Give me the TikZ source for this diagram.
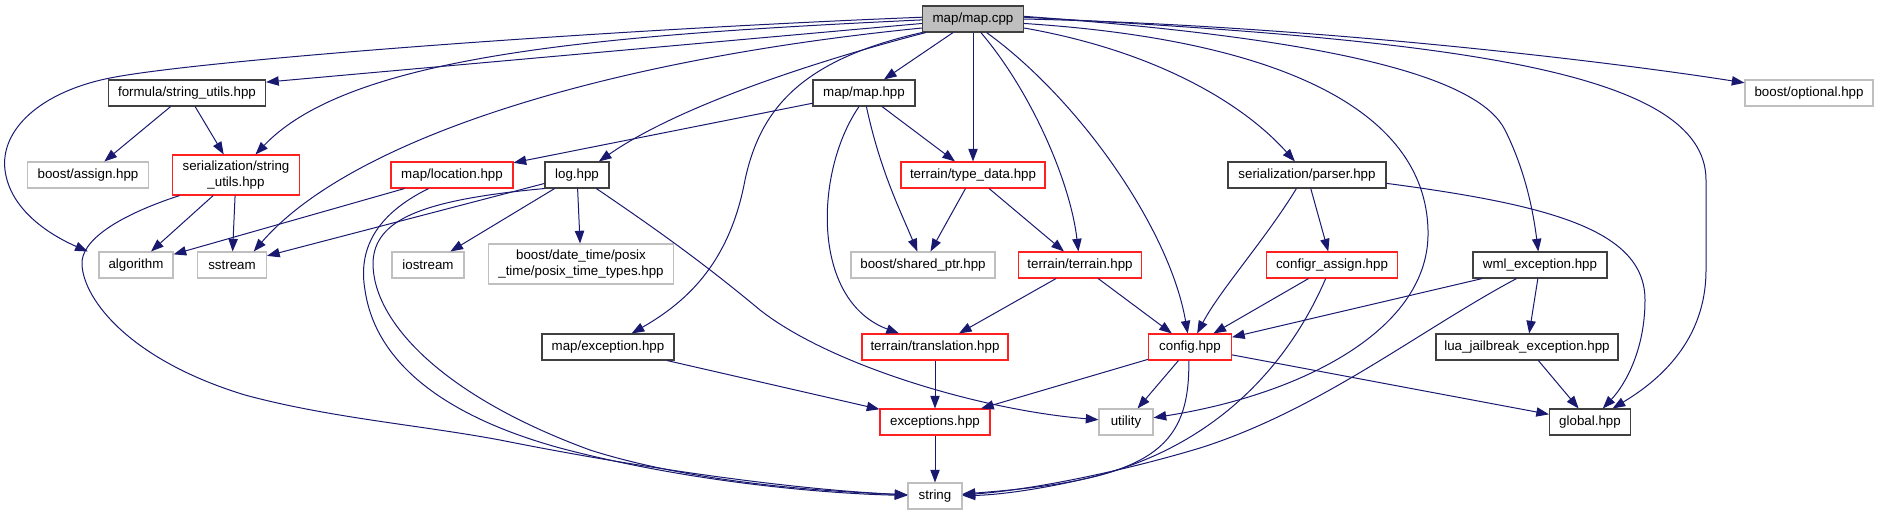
\documentclass[tikz,border=0pt]{standalone}
\usepackage{fontspec}
\setmainfont{Liberation Sans}
\usetikzlibrary{arrows.meta}
\definecolor{edgec}{HTML}{191970}
\definecolor{gbord}{HTML}{BFBFBF}
\definecolor{bbord}{HTML}{404040}
\definecolor{rbord}{HTML}{FF2020}
\definecolor{cppfill}{HTML}{BFBFBF}
\begin{document}
\begin{tikzpicture}[x=0.75pt,y=-0.75pt,
  box/.style={draw, line width=0.8pt, fill=white, minimum height=19.5pt, inner sep=0pt,
              font=\fontsize{10}{12}\selectfont, align=center},
  wd/.style={minimum width=#1*0.75pt},
  bbox/.style={box, draw=bbord},
  rbox/.style={box, draw=rbord},
  gbox/.style={box, draw=gbord},
  edge/.style={draw=edgec, line width=0.75pt, -{Triangle[length=9.5pt,width=7pt]}}
]
\useasboundingbox (0,0) rectangle (1878,515);

% nodes
\node[bbox, fill=cppfill, wd=101] (cpp) at (973,19) {map/map.cpp};
\node[bbox, wd=157] (formula) at (187,93) {formula/string\_utils.hpp};
\node[bbox, wd=102] (mhpp) at (864,93) {map/map.hpp};
\node[gbox, wd=128] (optional) at (1809,93) {boost/optional.hpp};
\node[gbox, wd=121] (assign) at (88,175) {boost/assign.hpp};
\node[rbox, wd=127, minimum height=30pt] (sstr) at (236,175) {serialization/string\\\_utils.hpp};
\node[rbox, wd=122] (loc) at (452,175) {map/location.hpp};
\node[bbox, wd=64] (log) at (577,175) {log.hpp};
\node[rbox, wd=144] (typedata) at (973,175) {terrain/type\_data.hpp};
\node[bbox, wd=158] (parser) at (1307,175) {serialization/parser.hpp};
\node[gbox, wd=74] (algorithm) at (136,265) {algorithm};
\node[gbox, wd=69] (sstream) at (232,265) {sstream};
\node[gbox, wd=72] (iostream) at (428,265) {iostream};
\node[gbox, wd=185, minimum height=30pt] (posix) at (581,264) {boost/date\_time/posix\\\_time/posix\_time\_types.hpp};
\node[gbox, wd=144] (sharedptr) at (923,265) {boost/shared\_ptr.hpp};
\node[rbox, wd=123] (terrain) at (1080,265) {terrain/terrain.hpp};
\node[rbox, wd=131] (configr) at (1332,265) {configr\_assign.hpp};
\node[bbox, wd=134] (wml) at (1540,265) {wml\_exception.hpp};
\node[bbox, wd=132] (mapexc) at (608,347) {map/exception.hpp};
\node[rbox, wd=146] (transl) at (935,347) {terrain/translation.hpp};
\node[rbox, wd=83] (config) at (1190,347) {config.hpp};
\node[bbox, wd=182] (lua) at (1527,347) {lua\_jailbreak\_exception.hpp};
\node[rbox, wd=110] (exceptions) at (935,422) {exceptions.hpp};
\node[gbox, wd=54] (utility) at (1126,422) {utility};
\node[bbox, wd=81] (global) at (1590,422) {global.hpp};
\node[gbox, wd=54] (string) at (935,496) {string};

% edges from map/map.cpp
\draw[edge] (cpp.178) .. controls (600,30) and (200,60) .. (110,78)
  .. controls (40,92) and (0,130) .. (5,170)
  .. controls (10,210) and (50,235) .. ([xshift=-8pt]algorithm.north west);
\draw[edge] (cpp.185) -- ([yshift=-2pt]formula.north east);
\draw[edge] (cpp.181) .. controls (600,35) and (350,55) .. (sstr);
\draw[edge] (cpp.190) .. controls (600,60) and (350,140) .. ([xshift=-10pt]sstream.north east);
\draw[edge] (cpp.196) .. controls (820,60) and (680,105) .. ([xshift=-8pt]log.north east);
\draw[edge] (cpp.south west) .. controls (800,60) and (760,110) .. (745,180)
  .. controls (730,260) and (690,300) .. (mapexc);
\draw[edge] (cpp) -- (mhpp);
\draw[edge] (cpp) -- (typedata);
\draw[edge] (cpp.-60) .. controls (1030,90) and (1070,180) .. (terrain);
\draw[edge] (cpp.-45) .. controls (1080,100) and (1170,230) .. (config);
\draw[edge] (cpp.-10) .. controls (1150,50) and (1240,100) .. (parser);
\draw[edge] (cpp.-5) .. controls (1280,40) and (1425,110) .. (1428,230)
  .. controls (1431,330) and (1300,395) .. (utility);
\draw[edge] (cpp.3) .. controls (1350,40) and (1480,80) .. (1505,130)
  .. controls (1525,170) and (1533,210) .. (wml);
\draw[edge] (cpp.2) .. controls (1450,40) and (1706,70) .. (1706,180)
  -- (1706,270) .. controls (1706,340) and (1660,380) .. (global);
\draw[edge] (cpp.east) .. controls (1300,25) and (1600,60) .. (optional);

% map/map.hpp
\draw[edge] (mhpp) -- (loc);
\draw[edge] (mhpp) -- (typedata);
\draw[edge] (mhpp.-80) .. controls (880,170) and (900,210) .. (sharedptr);
\draw[edge] (mhpp.-110) .. controls (815,170) and (810,300) .. (transl);

% formula/string_utils.hpp
\draw[edge] (formula) -- (assign);
\draw[edge] (formula) -- (sstr);

% serialization/string_utils.hpp
\draw[edge] (sstr) -- (algorithm);
\draw[edge] (sstr) -- (sstream);
\draw[edge] (sstr.200) .. controls (120,215) and (80,240) .. (82,265)
  .. controls (84,300) and (130,360) .. (245,395)
  .. controls (330,418) and (420,425) .. (500,440)
  .. controls (650,470) and (800,490) .. (string);

% map/location.hpp
\draw[edge] (loc) -- (algorithm);
\draw[edge] (loc.210) .. controls (375,215) and (358,250) .. (365,290)
  .. controls (375,360) and (440,415) .. (560,448)
  .. controls (700,485) and (840,494) .. (string);

% log.hpp
\draw[edge] (log) -- (sstream);
\draw[edge] (log) -- (iostream);
\draw[edge] (log) -- (posix);
\draw[edge] (log.south west) .. controls (420,200) and (375,220) .. (373,262)
  .. controls (372,320) and (440,395) .. (590,450)
  .. controls (700,485) and (840,492) .. (string);
\draw[edge] (log.-35) .. controls (650,225) and (700,260) .. (760,310)
  .. controls (830,365) and (980,410) .. (utility);

% terrain/type_data.hpp
\draw[edge] (typedata) -- (sharedptr);
\draw[edge] (typedata) -- (terrain);

% terrain/terrain.hpp
\draw[edge] (terrain) -- (transl);
\draw[edge] (terrain) -- (config);

% translation, map/exception
\draw[edge] (transl) -- (exceptions);
\draw[edge] (mapexc) -- (exceptions);

% config.hpp
\draw[edge] (config) -- (exceptions);
\draw[edge] (config) -- (utility);
\draw[edge] (config.-95) .. controls (1190,450) and (1150,480) .. (string);
\draw[edge] (config) -- (global);

% exceptions.hpp
\draw[edge] (exceptions) -- (string);

% serialization/parser.hpp
\draw[edge] (parser.-128) .. controls (1265,240) and (1220,290) .. (config);
\draw[edge] (parser) -- (configr);
\draw[edge] (parser.-6) .. controls (1550,205) and (1645,230) .. (1645,300)
  .. controls (1645,350) and (1625,385) .. (global);

% configr_assign.hpp
\draw[edge] (configr) -- (config);
\draw[edge] (configr.-115) .. controls (1295,350) and (1230,440) .. (1100,475)
  .. controls (1050,488) and (1000,495) .. (string);

% wml_exception.hpp
\draw[edge] (wml) -- (config);
\draw[edge] (wml.210) .. controls (1420,330) and (1320,410) .. (1200,448)
  .. controls (1100,478) and (1010,492) .. (string);
\draw[edge] (wml) -- (lua);

% lua_jailbreak_exception.hpp
\draw[edge] (lua) -- (global);
\end{tikzpicture}
\end{document}
